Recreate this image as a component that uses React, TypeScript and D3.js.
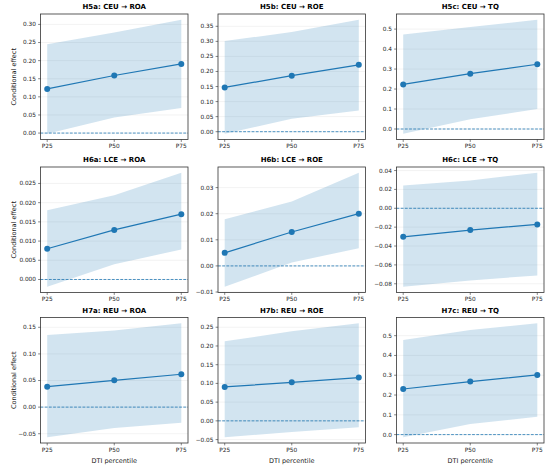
import React from "react";
import * as d3 from "d3";

const percentiles = ["P25", "P50", "P75"];

const panelTitles = [
  "H5a: CEU → ROA", "H5b: CEU → ROE", "H5c: CEU → TQ",
  "H6a: LCE → ROA", "H6b: LCE → ROE", "H6c: LCE → TQ",
  "H7a: REU → ROA", "H7b: REU → ROE", "H7c: REU → TQ",
];

const estimates = [
  [0.122, 0.159, 0.191],
  [0.147, 0.186, 0.222],
  [0.223, 0.277, 0.324],
  [0.008, 0.0129, 0.017],
  [0.005, 0.013, 0.020],
  [-0.0302, -0.0231, -0.0171],
  [0.0385, 0.0504, 0.0618],
  [0.0905, 0.103, 0.1156],
  [0.2305, 0.268, 0.3017],
];

const lowerCI = [
  [-0.002, 0.043, 0.069],
  [-0.007, 0.043, 0.070],
  [-0.024, 0.049, 0.100],
  [-0.0019, 0.004, 0.0078],
  [-0.008, 0.0013, 0.0068],
  [-0.0832, -0.0764, -0.0711],
  [-0.0567, -0.039, -0.0296],
  [-0.0439, -0.0296, -0.017],
  [-0.0136, 0.054, 0.0898],
];

const upperCI = [
  [0.245, 0.278, 0.313],
  [0.301, 0.331, 0.372],
  [0.473, 0.51, 0.547],
  [0.018, 0.0219, 0.0278],
  [0.0179, 0.0247, 0.0357],
  [0.0242, 0.0295, 0.0377],
  [0.1356, 0.1438, 0.1577],
  [0.2124, 0.239, 0.2608],
  [0.478, 0.529, 0.563],
];

const yTicks = [
  [0, 0.05, 0.1, 0.15, 0.2, 0.25, 0.3],
  [0, 0.05, 0.1, 0.15, 0.2, 0.25, 0.3, 0.35],
  [0, 0.1, 0.2, 0.3, 0.4, 0.5],
  [0, 0.005, 0.01, 0.015, 0.02, 0.025],
  [-0.01, 0, 0.01, 0.02, 0.03],
  [-0.08, -0.06, -0.04, -0.02, 0, 0.02, 0.04],
  [-0.05, 0, 0.05, 0.1, 0.15],
  [-0.05, 0, 0.05, 0.1, 0.15, 0.2, 0.25],
  [0, 0.1, 0.2, 0.3, 0.4, 0.5],
];

const tickDecimals = [2, 2, 1, 3, 2, 2, 2, 2, 1];

const C0 = "#1f77b4";
const FONT = "DejaVu Sans, sans-serif";

const colLeft = [40.5, 218, 396.5];
const rowTop = [14, 167, 317.5];
const PW = 147.5;
const PH = 125.5;

function fmt(v: number, d: number) {
  const s = Math.abs(v).toFixed(d);
  return (v < -1e-12 ? "\u2212" : "") + s;
}

function Panel({ i }: { i: number }) {
  const col = i % 3;
  const row = Math.floor(i / 3);
  const x0 = colLeft[col];
  const y0 = rowTop[row];
  const est = estimates[i];
  const lo = lowerCI[i];
  const hi = upperCI[i];
  const all = [...est, ...lo, ...hi, 0];
  const mn = d3.min(all)!;
  const mx = d3.max(all)!;
  const pad = (mx - mn) * 0.05;
  const y = d3.scaleLinear().domain([mn - pad, mx + pad]).range([y0 + PH, y0]);
  const x = d3.scaleLinear().domain([-0.1, 2.1]).range([x0, x0 + PW]);
  const idx = [0, 1, 2];
  const area = d3
    .area<number>()
    .x((k) => x(k))
    .y0((k) => y(lo[k]))
    .y1((k) => y(hi[k]));
  const line = d3
    .line<number>()
    .x((k) => x(k))
    .y((k) => y(est[k]));
  const ticks = yTicks[i];
  return (
    <g>
      {ticks.map((t) => (
        <line key={"g" + t} x1={x0} x2={x0 + PW} y1={y(t)} y2={y(t)} stroke="#ebebeb" strokeWidth={0.6} />
      ))}
      <path d={area(idx) || ""} fill={C0} fillOpacity={0.2} />
      <line x1={x0} x2={x0 + PW} y1={y(0)} y2={y(0)} stroke={C0} strokeWidth={0.8} strokeDasharray="2.8,1.4" />
      <path d={line(idx) || ""} fill="none" stroke={C0} strokeWidth={1.2} />
      {idx.map((k) => (
        <circle key={k} cx={x(k)} cy={y(est[k])} r={3} fill={C0} />
      ))}
      <rect x={x0} y={y0} width={PW} height={PH} fill="none" stroke="#333" strokeWidth={0.8} />
      {ticks.map((t) => (
        <g key={"t" + t}>
          <line x1={x0 - 2.4} x2={x0} y1={y(t)} y2={y(t)} stroke="#333" strokeWidth={0.6} />
          <text x={x0 - 4.5} y={y(t)} dy="0.34em" textAnchor="end" fontSize={5.8} fontFamily={FONT} fill="#1a1a1a">
            {fmt(t, tickDecimals[i])}
          </text>
        </g>
      ))}
      {idx.map((k) => (
        <g key={"x" + k}>
          <line x1={x(k)} x2={x(k)} y1={y0 + PH} y2={y0 + PH + 2.4} stroke="#333" strokeWidth={0.6} />
          <text x={x(k)} y={y0 + PH + 4.5} dy="0.75em" textAnchor="middle" fontSize={5.8} fontFamily={FONT} fill="#1a1a1a">
            {percentiles[k]}
          </text>
        </g>
      ))}
      <text x={x0 + PW / 2} y={y0 - 7} dy="0.35em" textAnchor="middle" fontSize={7} fontWeight="bold" fontFamily={FONT} fill="#000">
        {panelTitles[i]}
      </text>
      {col === 0 && (
        <text
          transform={`translate(${14},${y0 + PH / 2}) rotate(-90)`}
          textAnchor="middle"
          dy="0.35em"
          fontSize={6.5}
          fontFamily={FONT}
          fill="#1a1a1a"
        >
          Conditional effect
        </text>
      )}
      {row === 2 && (
        <text x={x0 + PW / 2} y={460.7} dy="0.35em" textAnchor="middle" fontSize={6.5} fontFamily={FONT} fill="#1a1a1a">
          DTI percentile
        </text>
      )}
    </g>
  );
}

export default function App() {
  return (
    <div style={{ position: "fixed", left: 0, top: 0 }}>
      <svg width={550} height={471} style={{ display: "block", background: "#fff" }}>
        <rect width={550} height={471} fill="#fff" />
        {panelTitles.map((_, i) => (
          <Panel key={i} i={i} />
        ))}
      </svg>
    </div>
  );
}
